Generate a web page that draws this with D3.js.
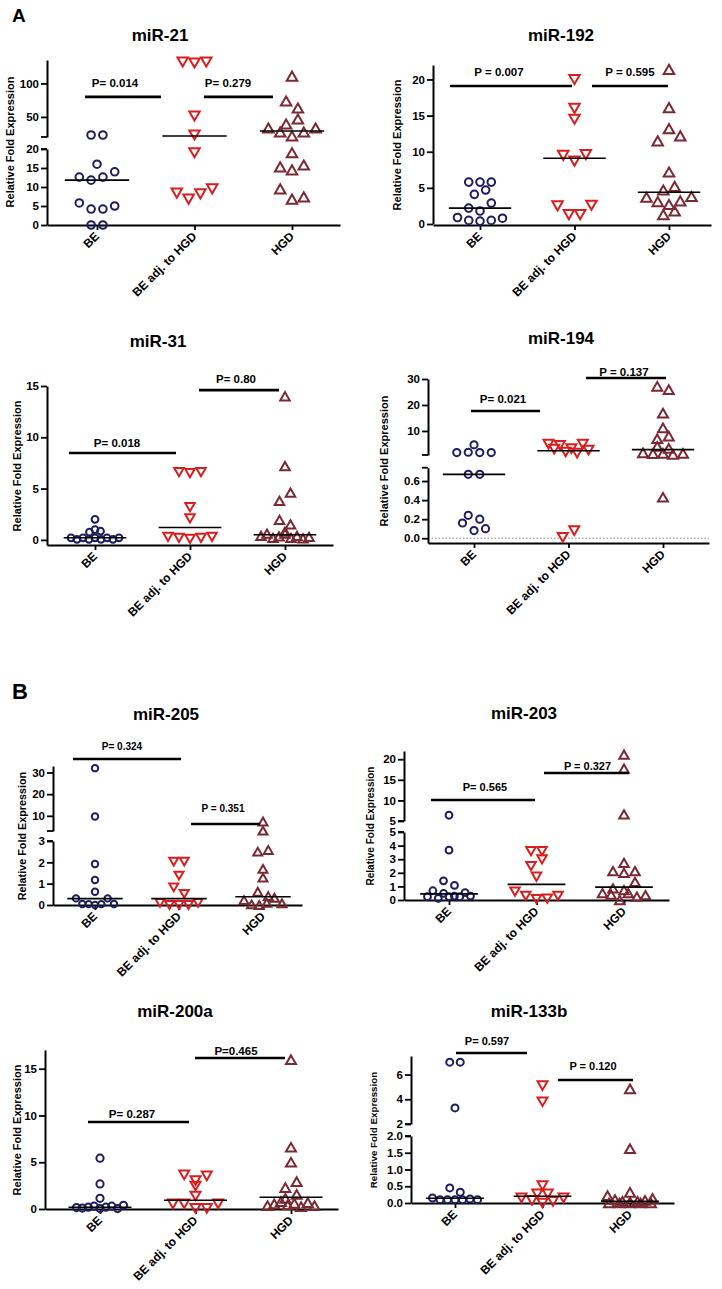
<!DOCTYPE html>
<html>
<head>
<meta charset="utf-8">
<script src="https://cdn.jsdelivr.net/npm/d3@7"></script>
<style>
  body { margin: 0; background: #fff; }
  svg { display: block; }
</style>
</head>
<body>
<div id="chart"></div>
<script>
// Groups on the x axis
const groups = ['BE', 'BE adj. to HGD', 'HGD'];

// Each series is a list of rows; points in one row sit side by side (Prism scatter style)
// miR-21
const mir21BE = [[23, 23], [16], [12.6, 11.8, 12.6, 14], [5.8, 4.2, 4.2, 5], [0, 0]];
const mir21Adj = [[132, 130.5, 132], [51.3], [23], [19], [8.4, 6.8, 8.2, 9.5]];
const mir21HGD = [[111], [73.7, 63.3], [39.4, 46.9], [33.4, 27.5, 21.5, 27.5, 33.4], [19], [15.3, 14.5, 15.8], [9.5, 6.8, 7.4]];
const mir21Median = [11.8, 21.5, 29];
const mir21P = [[-0.123, 0.656, 80, 'P= 0.014', 0.185, 94.6], [1.097, 1.805, 80, 'P= 0.279', 1.344, 94.6]];
const mir21Ticks = [[0, 5, 10, 15, 20], [50, 100]];

// miR-192
const mir192BE = [[5.8, 5.8, 5.8], [4.1, 4.7], [2.2, 1.8, 2.9], [0.9, 0.5, 0.4, 0.5, 0.8]];
const mir192Adj = [[20], [16], [14.5], [9.5, 8.7, 9.6], [2.5, 1.3, 1.3, 2.6]];
const mir192HGD = [[21.4], [16.1], [11.5, 13.2, 12.2], [7.2], [4.7, 5.2], [3.7, 3.1, 2.7, 3.2, 3.8], [1.3, 1.8]];
const mir192Median = [2.2, 9.1, 4.4];
const mir192P = [[-0.317, 0.974, 19.1, 'P = 0.007', 0.201, 20.5], [1.185, 1.989, 19.1, 'P = 0.595', 1.587, 20.5]];
const mir192Ticks = [[0, 5, 10, 15, 20]];

// miR-31
const mir31BE = [[2.0], [1.0], [0.75, 0.85], [0.2, 0.05, 0.2, 0.05, 0.2, 0.05, 0.2, 0.05, 0.2]];
const mir31Adj = [[6.6, 6.5, 6.6], [3.2], [2.1], [0.3, 0.2, 0.1, 0.2, 0.3]];
const mir31HGD = [[14.0], [7.2], [3.8, 4.6], [1.95, 1.5], [0.8], [0.4, 0.6, 0.2, 0.35, 0.6, 0.2, 0.4, 0.15, 0.3]];
const mir31Median = [0.2, 1.2, 0.5];
const mir31P = [[-0.274, 0.853, 8.47, 'P= 0.018', 0.232, 9.05], [1.095, 1.937, 14.6, 'P= 0.80', 1.484, 15.3]];
const mir31Ticks = [[0, 5, 10, 15]];

// miR-194
const mir194BE = [[4.7], [1.7, 1.8, 1.7, 1.7], [0.67, 0.67], [0.24, 0.2], [0.16, 0.08, 0.1]];
const mir194Adj = [[4.9, 3.0, 4.5, 1.9, 3.2, 1.5, 4.9, 2.6], [0.01, 0.08]];
const mir194HGD = [[27.2, 25.9], [16.9], [11.2], [7.0, 8.0], [4.1, 3.3], [1.6, 1.3, 1.4, 1.0, 1.4], [0.43]];
const mir194Median = [0.67, 2.4, 2.8];
const mir194P = [[-0.032, 0.698, 17.67, 'P= 0.021', 0.307, 20.75], [1.185, 2.032, 30.4, 'P = 0.137', 1.587, 31.1]];
const mir194Ticks = [[0, 0.2, 0.4, 0.6], [10, 20, 30]];

// miR-205
const mir205BE = [[32], [9.7], [1.92], [1.17], [0.62], [0.31, 0.05, 0.04, 0.0, 0.04, 0.31, 0.05]];
const mir205Adj = [[2.03, 2.03], [1.38], [0.83, 0.52], [0.1, 0.0, 0.0, 0.0, 0.1]];
const mir205HGD = [[7.4], [3.2], [2.5, 2.58], [1.69], [1.28], [0.62, 0.42], [0.23, 0.03, 0.0, 0.1, 0.34, 0.08]];
const mir205Median = [0.3, 0.3, 0.39];
const mir205P = [[-0.262, 1.024, 36.2, 'P= 0.324', 0.321, 40.4], [1.143, 1.964, 6.23, 'P = 0.351', 1.524, 11.8]];
const mir205Ticks = [[0, 1, 2, 3], [10, 20, 30]];

// miR-203
const mir203BE = [[6.4], [3.66], [1.41, 1.07], [0.24, 0.68, 0.12, 0.49, 0.24, 0.29, 0.24, 0.54, 0.29]];
const mir203Adj = [[3.6, 3.6], [2.49, 2.98], [1.71], [0.61, 0.3, 0.07, 0.1, 0.3]];
const mir203HGD = [[21.1], [17.7], [6.6], [2.73], [2.12, 2.0, 2.12], [0.85, 0.73, 1.34], [0.5, 0.4, 0.0, 0.5, 0.25, 0.35]];
const mir203Median = [0.45, 1.15, 0.95];
const mir203P = [[-0.206, 0.983, 10.1, 'P= 0.565', 0.411, 12.3], [1.086, 2.057, 16.66, 'P = 0.327', 1.583, 17.4]];
const mir203Ticks = [[0, 1, 2, 3, 4, 5], [5, 10, 15, 20]];

// miR-200a
const mir200aBE = [[5.43], [2.68], [1.14], [0.15, 0.1, 0.2, 0.3, 0.05, 0.2, 0.3, 0.05, 0.4]];
const mir200aAdj = [[3.64, 3.04, 3.54], [2.46], [1.39], [0.54, 0.54, 0.07, 0.07, 0.54]];
const mir200aHGD = [[15.96], [6.6], [5.0], [2.29, 2.93], [1.14, 1.57], [0.36, 0.54, 0.79, 0.43, 0.61, 0.25, 0.68, 0.36]];
const mir200aMedian = [0.18, 0.93, 1.25];
const mir200aP = [[-0.126, 0.932, 9.3, 'P= 0.287', 0.335, 9.73], [0.995, 1.937, 16.14, 'P=0.465', 1.424, 16.47]];
const mir200aTicks = [[0, 5, 10, 15]];

// miR-133b
const mir133bBE = [[7.0, 7.0], [3.3], [0.45, 0.32], [0.15, 0.1, 0.1, 0.1, 0.1, 0.12, 0.1]];
const mir133bAdj = [[5.1], [3.8], [0.52], [0.27, 0.27], [0.15, 0.08, 0.0, 0.05, 0.15]];
const mir133bHGD = [[4.84], [1.62], [0.32], [0.22, 0.1, 0.05, 0.03, 0.05, 0.08, 0.14], [0.0, 0.0, 0.0, 0.0, 0.0]];
const mir133bMedian = [0.14, 0.2, 0.05];
const mir133bP = [[0.011, 0.823, 7.74, 'P= 0.597', 0.366, 8.39], [1.177, 2.034, 5.56, 'P = 0.120', 1.577, 6.37]];
const mir133bTicks = [[0, 0.5, 1, 1.5, 2], [2, 4, 6]];

const FONT = "'Liberation Sans', Arial, Helvetica, sans-serif";
const colors = ['#1e1e5e', '#d81e1e', '#7a2832'];
const f1 = d3.format('.1f');
const fd = d3.format('d');

// panel layout (pixels) + axis segments (broken axes have two)
const panels = [
  { title: 'miR-21', series: [mir21BE, mir21Adj, mir21HGD], median: mir21Median, brackets: mir21P, ticks: mir21Ticks,
    domains: [[0, 20], [20, 135]], ranges: [[225, 149], [137, 60]], fmt: [fd, fd],
    left: 47, right: 340, cx: [97, 292], axisY: 225, ylab: [10, 142, 11], title_xy: [160, 41], gap: 11.8, rowW: 48, r: 3.8, tri: 10.5, pFont: 11.5 },
  { title: 'miR-192', series: [mir192BE, mir192Adj, mir192HGD], median: mir192Median, brackets: mir192P, ticks: mir192Ticks,
    domains: [[0, 22]], ranges: [[224, 65]], fmt: [fd],
    left: 433, right: 711, cx: [480, 669], axisY: 225, ylab: [397, 145, 11], title_xy: [561, 41], gap: 11.3, rowW: 45, r: 3.8, tri: 10.5, pFont: 11.5 },
  { title: 'miR-31', series: [mir31BE, mir31Adj, mir31HGD], median: mir31Median, brackets: mir31P, ticks: mir31Ticks,
    domains: [[-0.5, 15]], ranges: [[545, 386]], fmt: [fd],
    left: 47, right: 333, cx: [95, 285], axisY: 545, ylab: [17, 466, 11], title_xy: [158, 347], gap: 11, rowW: 48, r: 3.4, tri: 9.5, pFont: 11.5 },
  { title: 'miR-194', series: [mir194BE, mir194Adj, mir194HGD], median: mir194Median, brackets: mir194P, ticks: mir194Ticks,
    domains: [[-0.05, 0.74], [0.75, 30]], ranges: [[543, 467.7], [455, 379]], fmt: [f1, fd], zeroLine: true,
    left: 428, right: 709, cx: [474, 663], axisY: 543, ylab: [384, 461, 11], title_xy: [561, 344], gap: 11.5, rowW: 40, r: 3.6, tri: 10, pFont: 11.5 },
  { title: 'miR-205', series: [mir205BE, mir205Adj, mir205HGD], median: mir205Median, brackets: mir205P, ticks: mir205Ticks,
    domains: [[0, 3], [3, 33]], ranges: [[905, 841], [831, 766]], fmt: [fd, fd],
    left: 53, right: 302, cx: [95, 263], axisY: 905, ylab: [22, 836, 10.8], title_xy: [166, 720], gap: 10.5, rowW: 38, r: 3.2, tri: 9, pFont: 10 },
  { title: 'miR-203', series: [mir203BE, mir203Adj, mir203HGD], median: mir203Median, brackets: mir203P, ticks: mir203Ticks,
    domains: [[0, 5], [5, 22]], ranges: [[900, 832], [821, 751]], fmt: [fd, fd],
    left: 404, right: 669, cx: [449, 624], axisY: 900, ylab: [370, 826, 10], title_xy: [524, 719], gap: 11, rowW: 43, r: 3.4, tri: 9.5, pFont: 11 },
  { title: 'miR-200a', series: [mir200aBE, mir200aAdj, mir200aHGD], median: mir200aMedian, brackets: mir200aP, ticks: mir200aTicks,
    domains: [[0, 17]], ranges: [[1209, 1050]], fmt: [fd],
    left: 45, right: 338, cx: [100, 291], axisY: 1209, ylab: [17, 1130, 11], title_xy: [175, 1017], gap: 11.3, rowW: 47, r: 3.6, tri: 10, pFont: 11.5 },
  { title: 'miR-133b', series: [mir133bBE, mir133bAdj, mir133bHGD], median: mir133bMedian, brackets: mir133bP, ticks: mir133bTicks,
    domains: [[0, 2], [2, 7.5]], ranges: [[1203, 1136], [1124, 1056]], fmt: [f1, fd],
    left: 411, right: 674, cx: [455, 630], axisY: 1203, ylab: [374, 1130, 9.8], title_xy: [529, 1017], gap: 10.5, rowW: 45, r: 3.5, tri: 10, pFont: 11 }
];

const svg = d3.select('#chart').append('svg')
  .attr('width', 722)
  .attr('height', 1289)
  .attr('font-family', FONT)
  .attr('font-weight', 'bold');

svg.append('rect').attr('width', 722).attr('height', 1289).attr('fill', '#fff');

// panel letters
svg.append('text').attr('x', 12).attr('y', 22).attr('font-size', 19).text('A');
svg.append('text').attr('x', 12).attr('y', 699).attr('font-size', 22).text('B');

// triangle path centred on its box
function triPath(s, up) {
  const h = s * 0.87;
  const k = up ? 1 : -1;
  return `M0,${-k * h / 2}L${s / 2},${k * h / 2}L${-s / 2},${k * h / 2}Z`;
}

panels.forEach(p => {
  const g = svg.append('g');
  const x = d3.scaleLinear().domain([0, 2]).range(p.cx);
  const step = (p.cx[1] - p.cx[0]) / 2;
  const segs = p.domains.map((dom, i) => d3.scaleLinear().domain(dom).range(p.ranges[i]));
  const yOf = v => {
    for (const s of segs) if (v <= s.domain()[1]) return s(v);
    return segs[segs.length - 1](v);
  };

  // title
  g.append('text')
    .attr('x', p.title_xy[0]).attr('y', p.title_xy[1])
    .attr('text-anchor', 'middle').attr('font-size', 17)
    .text(p.title);

  // y axis label
  g.append('text')
    .attr('transform', `translate(${p.ylab[0]},${p.ylab[1]}) rotate(-90)`)
    .attr('text-anchor', 'middle').attr('dy', '0.35em')
    .attr('font-size', p.ylab[2])
    .text('Relative Fold Expression');

  // dotted zero line
  if (p.zeroLine) {
    g.append('line')
      .attr('x1', p.left).attr('x2', p.right)
      .attr('y1', yOf(0)).attr('y2', yOf(0))
      .attr('stroke', '#888').attr('stroke-width', 1)
      .attr('stroke-dasharray', '1.5,2');
  }

  // y axis segments
  segs.forEach((s, i) => {
    const ax = g.append('g')
      .attr('transform', `translate(${p.left},0)`)
      .call(d3.axisLeft(s).tickValues(p.ticks[i]).tickSize(6).tickSizeOuter(0).tickFormat(p.fmt[i]));
    ax.select('.domain').attr('stroke-width', 2);
    ax.selectAll('.tick line').attr('stroke-width', 1.8);
    ax.selectAll('.tick text').attr('font-family', FONT).attr('font-weight', 'bold')
      .attr('font-size', 11.5).attr('fill', '#000').attr('x', -8);
  });
  // break caps
  if (segs.length > 1) {
    [segs[0].range()[1], segs[1].range()[0]].forEach(yy => {
      g.append('line').attr('x1', p.left - 6).attr('x2', p.left)
        .attr('y1', yy).attr('y2', yy)
        .attr('stroke', '#000').attr('stroke-width', 1.8);
    });
  }

  // x axis
  const xa = d3.scaleLinear().domain([x.invert(p.left), x.invert(p.right)]).range([p.left, p.right]);
  const xax = g.append('g')
    .attr('transform', `translate(0,${p.axisY})`)
    .call(d3.axisBottom(xa).tickValues([0, 1, 2]).tickSize(5).tickSizeOuter(0).tickFormat(''));
  xax.select('.domain').attr('stroke-width', 2);
  xax.selectAll('.tick line').attr('stroke-width', 1.8);

  // x labels
  groups.forEach((name, i) => {
    g.append('text')
      .attr('transform', `translate(${x(i) + 3},${p.axisY + 12}) rotate(-45)`)
      .attr('text-anchor', 'end').attr('font-size', 12)
      .text(name);
  });

  // points
  p.series.forEach((rows, gi) => {
    rows.forEach(row => {
      const n = row.length;
      const sp = n > 1 ? Math.min(p.gap, p.rowW / (n - 1)) : 0;
      row.forEach((v, k) => {
        const px = x(gi) + (k - (n - 1) / 2) * sp;
        const py = yOf(v);
        if (gi === 0) {
          g.append('circle').attr('cx', px).attr('cy', py).attr('r', p.r)
            .attr('fill', 'none').attr('stroke', colors[0]).attr('stroke-width', 2);
        } else {
          g.append('path').attr('d', triPath(p.tri, gi === 2))
            .attr('transform', `translate(${px},${py})`)
            .attr('fill', 'none').attr('stroke', colors[gi]).attr('stroke-width', 2)
            .attr('stroke-linejoin', 'miter');
        }
      });
    });
  });

  // medians
  p.median.forEach((m, gi) => {
    g.append('line')
      .attr('x1', x(gi) - step * 0.33).attr('x2', x(gi) + step * 0.33)
      .attr('y1', yOf(m)).attr('y2', yOf(m))
      .attr('stroke', '#000').attr('stroke-width', 1.6);
  });

  // p-value brackets
  p.brackets.forEach(b => {
    g.append('line')
      .attr('x1', x(b[0])).attr('x2', x(b[1]))
      .attr('y1', yOf(b[2])).attr('y2', yOf(b[2]))
      .attr('stroke', '#000').attr('stroke-width', 2.6);
    g.append('text')
      .attr('x', x(b[4])).attr('y', yOf(b[5]))
      .attr('text-anchor', 'middle').attr('font-size', p.pFont)
      .text(b[3]);
  });
});
</script>
</body>
</html>
